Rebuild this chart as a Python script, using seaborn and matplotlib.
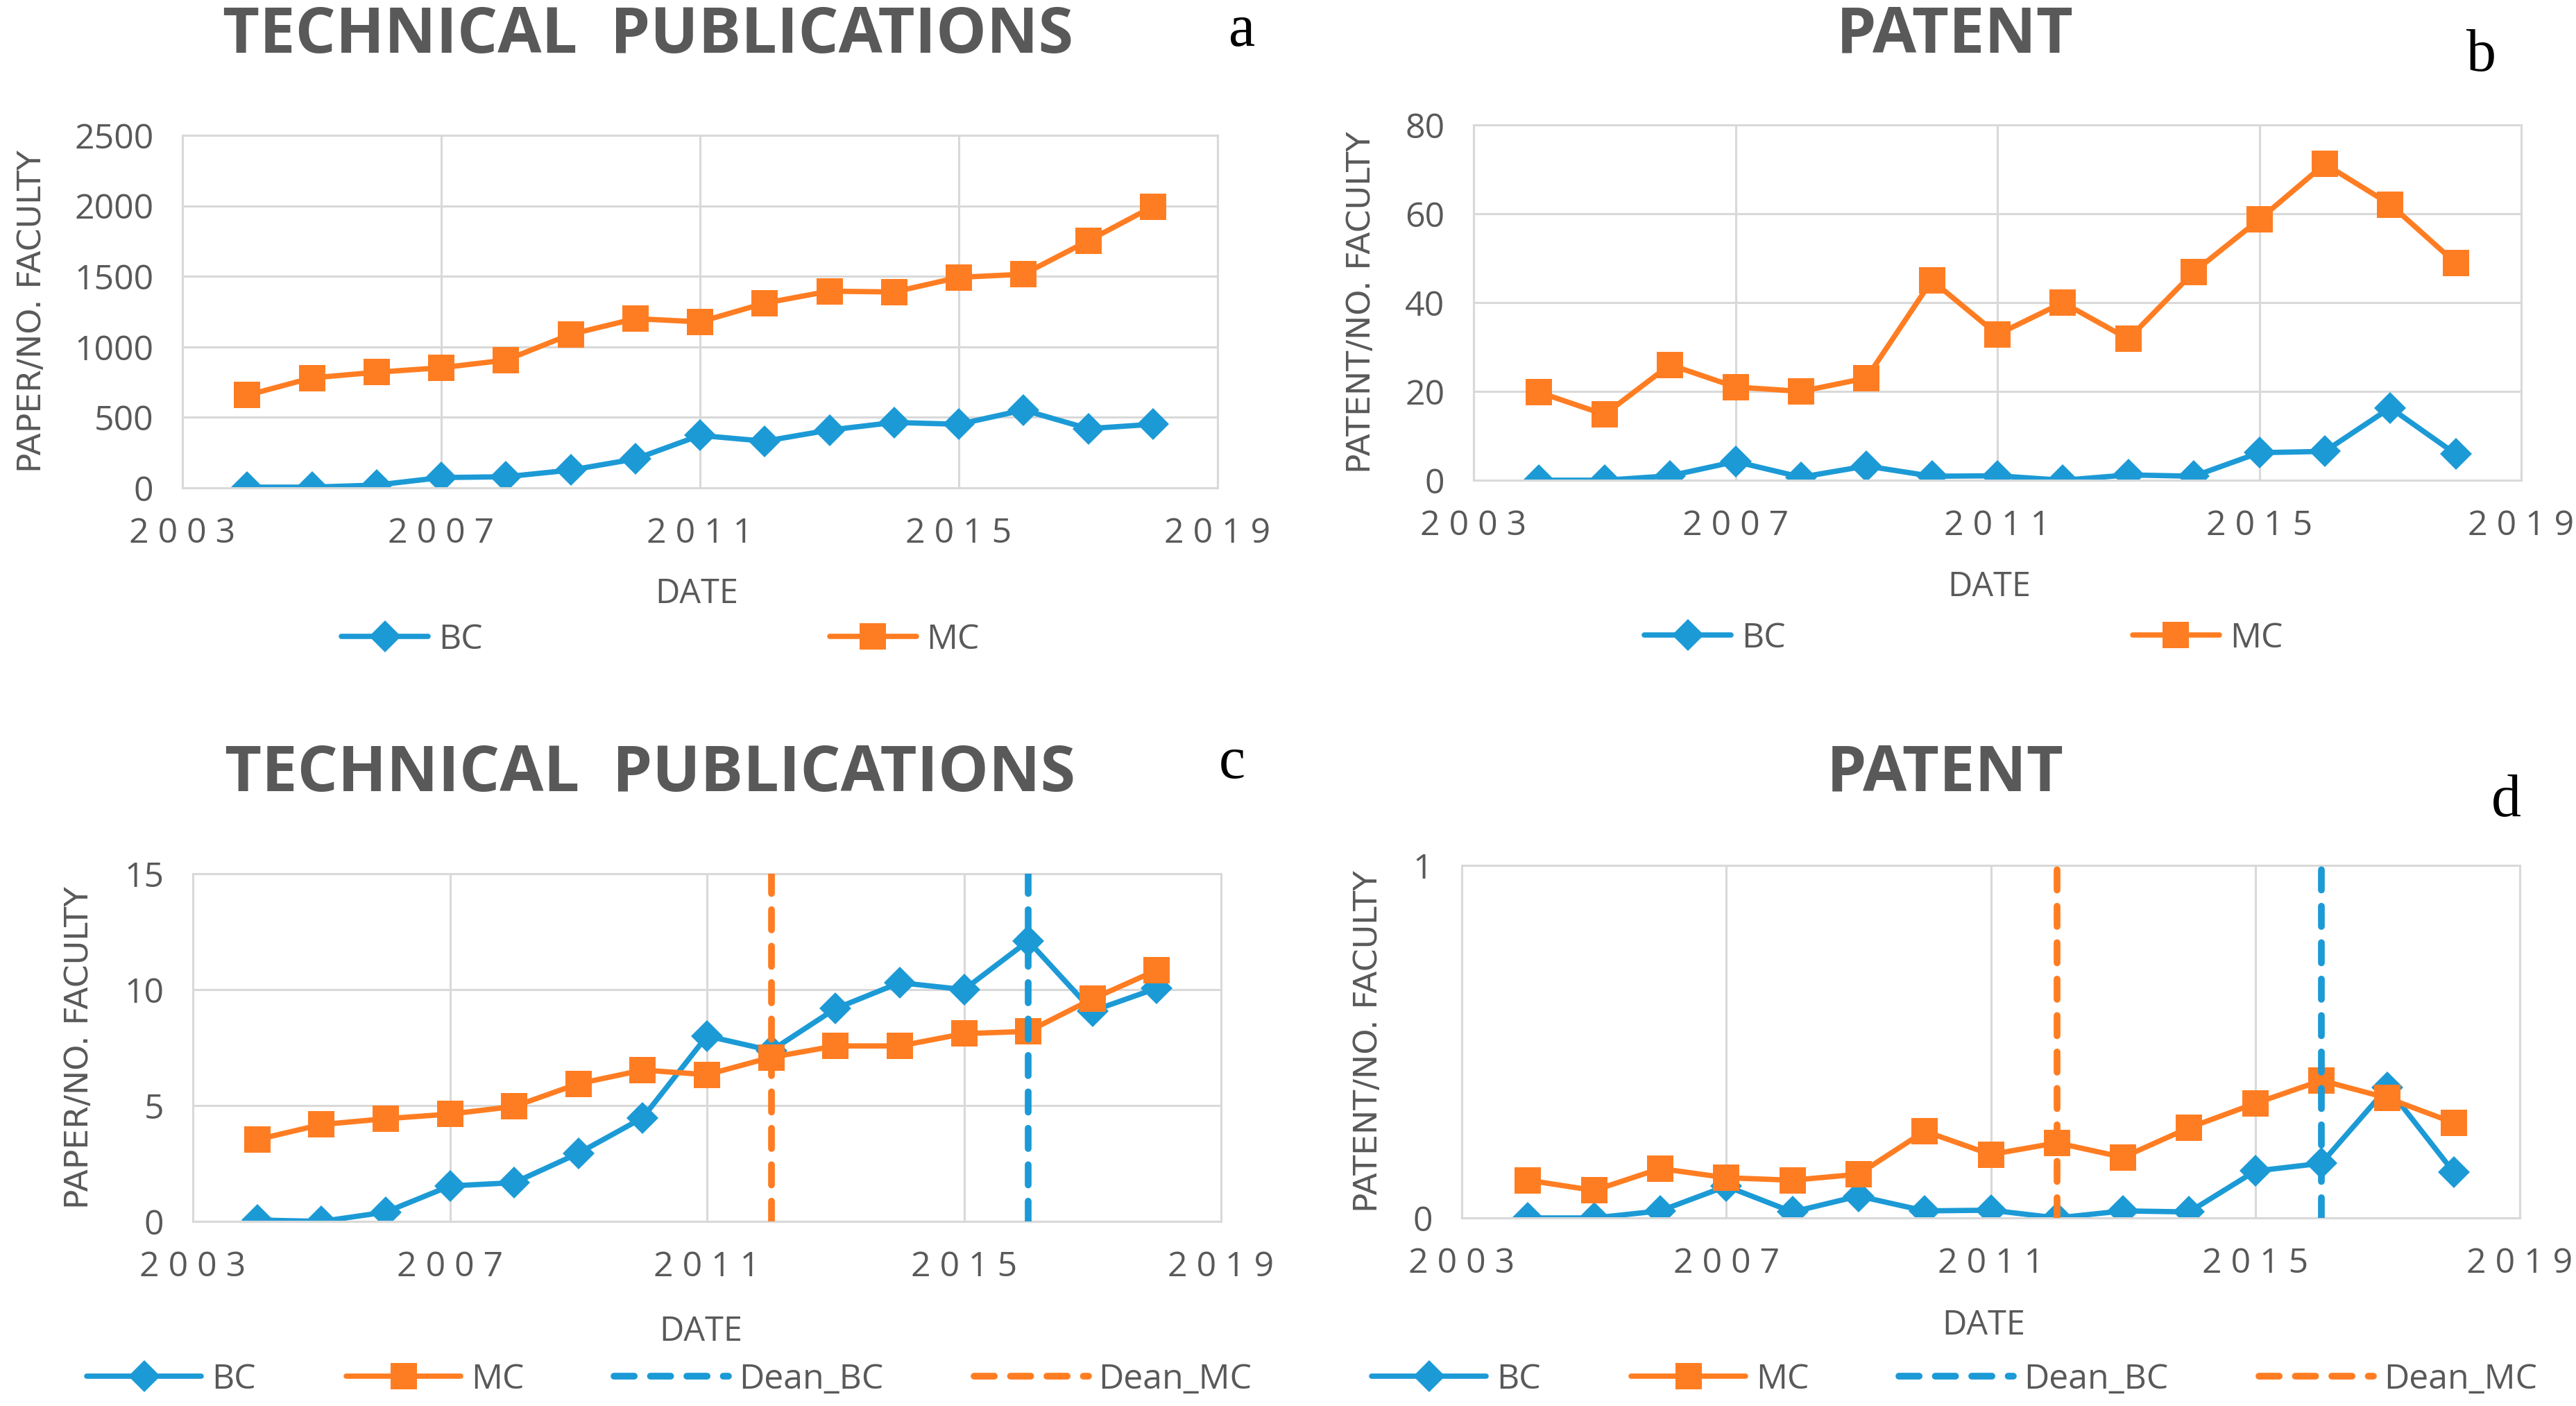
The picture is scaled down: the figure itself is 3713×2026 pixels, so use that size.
import matplotlib
matplotlib.use("Agg")
import matplotlib.pyplot as plt
import seaborn as sns
from matplotlib.ticker import FuncFormatter

# data
years = list(range(2004, 2019))

pub_bc = [5, 5, 20, 73, 79, 126, 205, 372, 331, 410, 464, 451, 552, 420, 451]
pub_mc = [657, 780, 820, 852, 906, 1089, 1200, 1177, 1310, 1395, 1389, 1493, 1515, 1752, 1995]

pat_bc = [0, 0, 1, 4.2, 0.7, 3.2, 0.9, 1, 0, 1.2, 0.9, 6.2, 6.5, 16.3, 5.9]
pat_mc = [19.8, 14.8, 26, 21, 20, 23, 45, 32.8, 40, 31.8, 46.9, 58.7, 71.2, 62.1, 48.9]

pubn_bc = [0.06, 0, 0.4, 1.53, 1.67, 2.94, 4.47, 8.0, 7.37, 9.18, 10.3, 10.0, 12.1, 9.08, 10.06]
pubn_mc = [3.53, 4.18, 4.43, 4.63, 4.96, 5.94, 6.53, 6.33, 7.08, 7.57, 7.57, 8.1, 8.2, 9.6, 10.84]

patn_bc = [0, 0, 0.02, 0.09, 0.017, 0.062, 0.02, 0.022, 0, 0.02, 0.017, 0.133, 0.155, 0.37, 0.13]
patn_mc = [0.107, 0.078, 0.14, 0.114, 0.107, 0.124, 0.246, 0.18, 0.213, 0.172, 0.256, 0.325, 0.39, 0.34, 0.27]

dean_bc = 2016
dean_mc = 2012

BLUE = "#1C9AD6"
ORANGE = "#FF7D22"
GRAY = "#595959"
GRID = "#D9D9D9"

W, H = 3713, 2026

sns.set_theme(style="white")
plt.rcParams['font.family'] = ['Open Sans', 'DejaVu Sans']

fig = plt.figure(figsize=(W / 100, H / 100), dpi=100)


def box(left, top, right, bottom):
    return [left / W, 1 - bottom / H, (right - left) / W, (bottom - top) / H]


def panel(rect, bc, mc, ymax, ystep, ylabel, ylab_x, date_xy, deans, leg_center):
    ax = fig.add_axes(rect)
    sns.lineplot(x=years, y=bc, ax=ax, color=BLUE, marker='D', markersize=23,
                 markeredgewidth=0, linewidth=5.5, label='BC')
    sns.lineplot(x=years, y=mc, ax=ax, color=ORANGE, marker='s', markersize=28,
                 markeredgewidth=0, linewidth=5.5, label='MC')
    if deans:
        ax.axvline(dean_bc, color=BLUE, lw=7, dashes=(3.0, 2.4),
                   dash_capstyle='round', label='Dean_BC', zorder=5)
        ax.axvline(dean_mc, color=ORANGE, lw=7, dashes=(3.0, 2.4),
                   dash_capstyle='round', label='Dean_MC', zorder=5)

    ax.set_xlim(2003, 2019)
    ax.set_xticks([2003, 2007, 2011, 2015, 2019])
    ax.xaxis.set_major_formatter(FuncFormatter(lambda v, p: " ".join(str(int(v)))))
    ax.set_ylim(0, ymax)
    ax.set_yticks([i * ystep for i in range(int(round(ymax / ystep)) + 1)])
    ax.yaxis.set_major_formatter(FuncFormatter(lambda v, p: f"{v:g}"))
    ax.tick_params(length=0, labelsize=36, labelcolor=GRAY)
    ax.tick_params(axis='y', pad=30)
    ax.tick_params(axis='x', pad=30)

    ax.grid(True, color=GRID, linewidth=2.2)
    ax.set_axisbelow(True)
    for s in ax.spines.values():
        s.set_color(GRID)
        s.set_linewidth(2.2)

    ax.set_ylabel(ylabel, fontsize=34, color=GRAY, family=['DejaVu Sans'])
    ax.yaxis.set_label_coords(ylab_x, 0.5)
    ax.yaxis.label.set_va('center')
    ax.set_xlabel("DATE", fontsize=35, color=GRAY)
    ax.xaxis.set_label_coords(*date_xy)
    ax.xaxis.label.set_va('center')

    if deans:
        ax.legend(loc='center', bbox_to_anchor=(leg_center[0] / W, 1 - leg_center[1] / H),
                  bbox_transform=fig.transFigure, ncol=4, frameon=False,
                  fontsize=36, labelcolor=GRAY, handlelength=3.3,
                  handletextpad=0.3, columnspacing=2.6)
    else:
        ax.legend(loc='center', bbox_to_anchor=(leg_center[0] / W, 1 - leg_center[1] / H),
                  bbox_transform=fig.transFigure, ncol=2, frameon=False,
                  fontsize=36, labelcolor=GRAY, handlelength=2.5,
                  handletextpad=0.3, columnspacing=10)
    return ax


panel(box(263, 195, 1755, 703), pub_bc, pub_mc, 2500, 500, "PAPER/NO. FACULTY",
      -0.145, (0.497, -0.302), False, (952, 922))
panel(box(2124, 180, 3634, 692), pat_bc, pat_mc, 80, 20, "PATENT/NO. FACULTY",
      -0.107, (0.492, -0.302), False, (2830, 920))
panel(box(278, 1259, 1760, 1760), pubn_bc, pubn_mc, 15, 5, "PAPER/NO. FACULTY",
      -0.110, (0.494, -0.318), True, (965, 1988))
panel(box(2107, 1247, 3632, 1755), patn_bc, patn_mc, 1, 1, "PATENT/NO. FACULTY",
      -0.088, (0.493, -0.306), True, (2817, 1988))

# panel titles
titles = [("TECHNICAL  PUBLICATIONS", 934, 52), ("PATENT", 2818, 52),
          ("TECHNICAL  PUBLICATIONS", 937, 1116), ("PATENT", 2804, 1115)]
for t, x, y in titles:
    fig.text(x / W, 1 - y / H, t, ha='center', va='center', fontsize=66,
             fontweight='bold', color=GRAY, family=['Open Sans'])

# panel letters
letters = [("a", 1790, 45), ("b", 3576, 81), ("c", 1776, 1100), ("d", 3612, 1155)]
for t, x, y in letters:
    fig.text(x / W, 1 - y / H, t, ha='center', va='center', fontsize=62,
             color='black', family=['Liberation Serif'])

fig.savefig("out.png", dpi=100, facecolor='white')
